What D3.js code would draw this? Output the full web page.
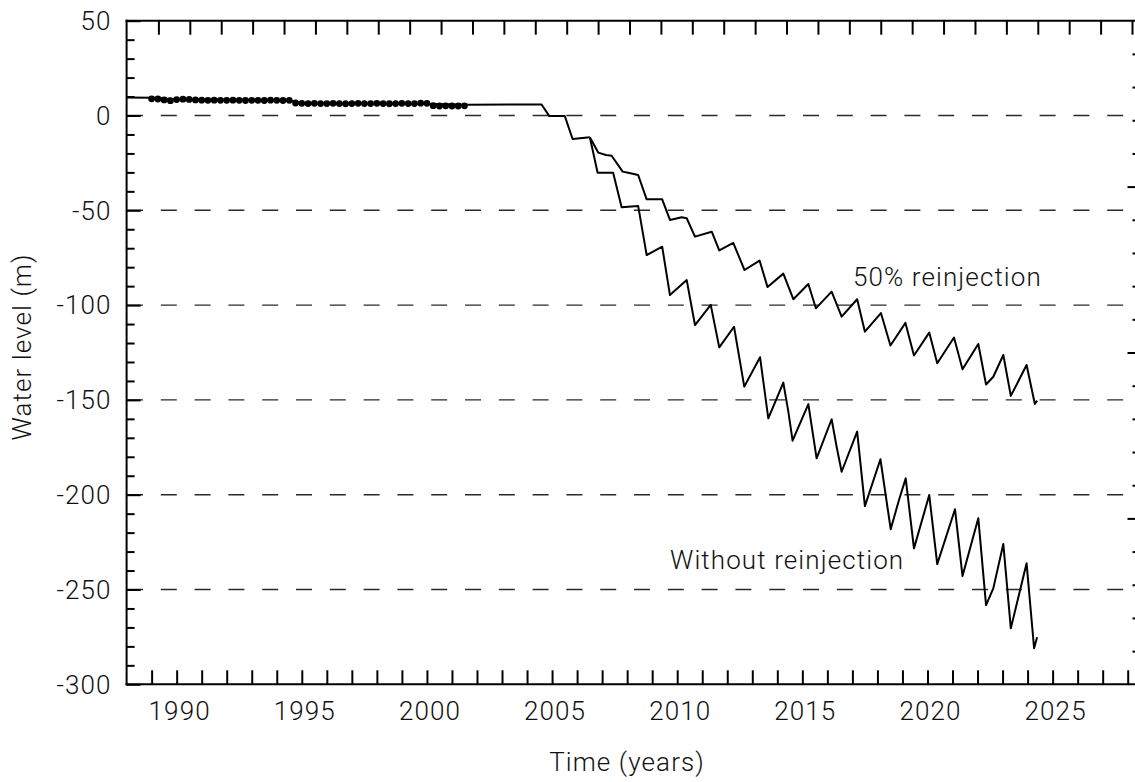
<!DOCTYPE html>
<html><head><meta charset="utf-8">
<script src="https://cdn.jsdelivr.net/npm/d3@7"></script>
<style>
html,body{margin:0;padding:0;background:#fff;}
svg{display:block;}
text{font-family:Roboto,"Liberation Sans",Arial,sans-serif;font-weight:300;font-size:26px;letter-spacing:1.1px;fill:#111;}
</style></head><body>
<svg id="chart" width="1135" height="782"></svg>
<script>
// ---------------- data ----------------
const yearDomain = [1988, 2028];
const levelDomain = [-300, 50];
const xTickLabels = [1990, 1995, 2000, 2005, 2010, 2015, 2020, 2025];
const yTickLabels = [50, 0, -50, -100, -150, -200, -250, -300];
const gridLevels = [0, -50, -100, -150, -200, -250];

// measured water levels (markers)
const observedYears = [1989.00,1989.25,1989.50,1989.75,1990.00,1990.25,1990.50,1990.75,1991.00,1991.25,
  1991.50,1991.75,1992.00,1992.25,1992.50,1992.75,1993.00,1993.25,1993.50,1993.75,
  1994.00,1994.25,1994.50,1994.75,1995.00,1995.25,1995.50,1995.75,1996.00,1996.25,
  1996.50,1996.75,1997.00,1997.25,1997.50,1997.75,1998.00,1998.25,1998.50,1998.75,
  1999.00,1999.25,1999.50,1999.75,2000.00,2000.25,2000.50,2000.75,2001.00,2001.25,2001.50];
const observedLevels = [8.8,8.7,8.2,7.8,8.4,8.6,8.5,8.2,8.1,8.0,
  8.1,8.0,8.0,8.1,8.0,7.9,8.0,8.0,7.9,8.1,
  8.0,7.9,8.0,6.6,6.4,6.3,6.4,6.3,6.3,6.4,
  6.3,6.2,6.3,6.4,6.3,6.3,6.4,6.3,6.2,6.3,
  6.4,6.3,6.3,6.5,6.4,5.2,5.0,5.1,5.0,5.0,5.1];

// simulated common history
const sharedYears  = [1988, 1989, 1990, 1994.5, 1995, 2000.3, 2001.6, 2004.58, 2004.89, 2005.51, 2005.82, 2006.51];
const sharedLevels = [9.5, 9.4, 8.6, 8.1, 6.4, 6.0, 5.7, 5.8, -0.3, -0.3, -12.4, -11.5];

// 50% reinjection scenario
const reinjYears = [2006.51,2006.85,2007.15,2007.38,2007.82,2008.04,2008.44,2008.78,2009.40,2009.71,
  2010.18,2010.38,2010.71,2011.38,2011.68,2012.24,2012.69,2013.29,2013.61,2014.24,
  2014.64,2015.24,2015.54,2016.17,2016.57,2017.19,2017.50,2018.14,2018.52,2019.12,
  2019.46,2020.07,2020.39,2021.06,2021.40,2022.03,2022.34,2022.63,2023.03,2023.33,
  2023.96,2024.29,2024.38];
const reinjLevels = [-11.5,-19.6,-20.8,-21.2,-29.6,-30.2,-31.4,-44.2,-44.2,-55.1,
  -53.7,-54.2,-63.9,-61.3,-71.2,-67.2,-81.5,-76.5,-90.5,-83.4,
  -96.9,-88.9,-101.7,-92.9,-106.1,-96.9,-114.0,-104.2,-121.3,-109.4,
  -126.6,-114.5,-130.7,-117.1,-133.8,-120.5,-141.9,-137.8,-126.3,-147.9,
  -131.6,-152.2,-150.4];

// without reinjection scenario
const noReinjYears = [2006.51,2006.82,2007.44,2007.78,2008.44,2008.78,2009.40,2009.71,2010.38,2010.71,
  2011.34,2011.68,2012.27,2012.68,2013.31,2013.64,2014.24,2014.44,2014.61,2015.24,
  2015.57,2016.17,2016.37,2016.57,2017.19,2017.50,2018.12,2018.53,2018.87,2019.13,
  2019.46,2020.07,2020.39,2021.10,2021.40,2022.03,2022.34,2022.63,2023.03,2023.33,
  2023.96,2024.26,2024.38];
const noReinjLevels = [-11.5,-30.2,-30.2,-48.4,-47.7,-73.6,-69.2,-94.7,-86.8,-110.5,
  -99.9,-122.3,-111.4,-143.0,-127.5,-159.7,-140.9,-156.2,-171.5,-152.2,
  -180.8,-160.2,-174.7,-187.9,-166.7,-206.0,-181.3,-218.2,-202.4,-191.4,
  -228.3,-200.2,-236.6,-207.7,-242.9,-212.4,-258.2,-249.4,-226.0,-270.5,
  -236.2,-281.0,-275.2];

const seriesLabels = ["50% reinjection", "Without reinjection"];
const axisTitles = {x: "Time (years)", y: "Water level (m)"};

// ---------------- layout ----------------
const plot = {left: 126.6, right: 1127.7, top: 20.7, bottom: 684.3};
const svg = d3.select("#chart");

const x = d3.scaleLinear().domain(yearDomain).range([plot.left, plot.right]);
const xTop = d3.scaleLinear().domain(yearDomain).range([127, 1132]);
const y = d3.scaleLinear().domain(levelDomain).range([plot.bottom, plot.top]);
const yRight = d3.scaleLinear().domain([0, 20]).range([plot.bottom, plot.top]);

// grid lines (dashed)
svg.append("g").selectAll("line").data(gridLevels).join("line")
  .attr("x1", plot.left + 0.4).attr("x2", 1127)
  .attr("y1", d => y(d)).attr("y2", d => y(d))
  .attr("stroke", "#2a2a2a").attr("stroke-width", 1.4)
  .attr("stroke-dasharray", "16 17.8");

// bottom axis ticks
const bottomTicks = d3.range(yearDomain[0] + 1, yearDomain[1] + 1);
svg.append("g").attr("transform", `translate(0,${plot.bottom})`)
  .call(d3.axisBottom(x).tickValues(bottomTicks).tickSizeInner(-14).tickSizeOuter(0).tickFormat(""))
  .call(g => g.select(".domain").remove())
  .call(g => g.selectAll(".tick line").attr("stroke", "#000").attr("stroke-width", 2));

// top axis ticks (1.25-year spacing)
const topTicks = d3.range(1, 33).map(k => yearDomain[0] + 1.25 * k);
svg.append("g").attr("transform", `translate(0,${plot.top})`)
  .call(d3.axisTop(xTop).tickValues(topTicks).tickSizeInner(-14).tickSizeOuter(0).tickFormat(""))
  .call(g => g.select(".domain").remove())
  .call(g => g.selectAll(".tick line").attr("stroke", "#000").attr("stroke-width", 2));

// left axis ticks: minor every 10, major every 50
const leftMinor = d3.range(-290, 50, 10).filter(v => v % 50 !== 0);
svg.append("g").attr("transform", `translate(${plot.left},0)`)
  .call(d3.axisLeft(y).tickValues(leftMinor).tickSizeInner(-8).tickSizeOuter(0).tickFormat(""))
  .call(g => g.select(".domain").remove())
  .call(g => g.selectAll(".tick line").attr("stroke", "#000").attr("stroke-width", 2));
svg.append("g").attr("transform", `translate(${plot.left},0)`)
  .call(d3.axisLeft(y).tickValues(yTickLabels).tickSizeInner(-14).tickSizeOuter(0).tickFormat(""))
  .call(g => g.select(".domain").remove())
  .call(g => g.selectAll(".tick line").attr("stroke", "#000").attr("stroke-width", 2));

// right axis ticks (no labels)
const rightTicks = d3.range(1, 20);
svg.append("g").attr("transform", `translate(1136,0)`)
  .call(d3.axisRight(yRight).tickValues(rightTicks).tickSizeOuter(0).tickFormat(""))
  .call(g => g.select(".domain").remove())
  .call(g => g.selectAll(".tick line")
    .attr("x2", d => d % 5 === 0 ? -8.5 : -3.5)
    .attr("stroke", "#000").attr("stroke-width", 2));

// frame lines
svg.append("line").attr("x1", plot.left).attr("x2", plot.left).attr("y1", plot.top - 1).attr("y2", plot.bottom + 1)
  .attr("stroke", "#000").attr("stroke-width", 2);
svg.append("line").attr("x1", plot.left - 1).attr("x2", 1135).attr("y1", plot.top).attr("y2", plot.top)
  .attr("stroke", "#000").attr("stroke-width", 2);
svg.append("line").attr("x1", plot.left - 1).attr("x2", 1135).attr("y1", plot.bottom).attr("y2", plot.bottom)
  .attr("stroke", "#000").attr("stroke-width", 2);

// tick labels
svg.append("g").selectAll("text").data(xTickLabels).join("text")
  .attr("x", d => x(d) + 3).attr("y", 719.5).attr("text-anchor", "middle").text(d => d);
svg.append("g").selectAll("text").data(yTickLabels).join("text")
  .attr("x", 111.5).attr("y", d => y(d) + 9.2).attr("text-anchor", "end").text(d => d);

// axis titles
svg.append("text").attr("x", 627).attr("y", 771).attr("text-anchor", "middle").text(axisTitles.x);
svg.append("text").attr("transform", "translate(31,347) rotate(-90)").attr("text-anchor", "middle").text(axisTitles.y);

// curves
const line = d3.line().x(d => x(d[0])).y(d => y(d[1]));
const zip = (a, b) => a.map((v, i) => [v, b[i]]);
const curveStyle = sel => sel.attr("fill", "none").attr("stroke", "#000").attr("stroke-width", 2)
  .attr("stroke-linejoin", "round");
svg.append("path").datum(zip(sharedYears, sharedLevels)).attr("d", line).call(curveStyle);
svg.append("path").datum(zip(reinjYears, reinjLevels)).attr("d", line).call(curveStyle);
svg.append("path").datum(zip(noReinjYears, noReinjLevels)).attr("d", line).call(curveStyle);

// observed markers
svg.append("g").selectAll("circle").data(zip(observedYears, observedLevels)).join("circle")
  .attr("cx", d => x(d[0])).attr("cy", d => y(d[1])).attr("r", 3.4).attr("fill", "#000");

// annotations
svg.append("text").attr("x", 853).attr("y", 286).text(seriesLabels[0]);
svg.append("text").attr("x", 670).attr("y", 569).text(seriesLabels[1]);
</script>
</body></html>
